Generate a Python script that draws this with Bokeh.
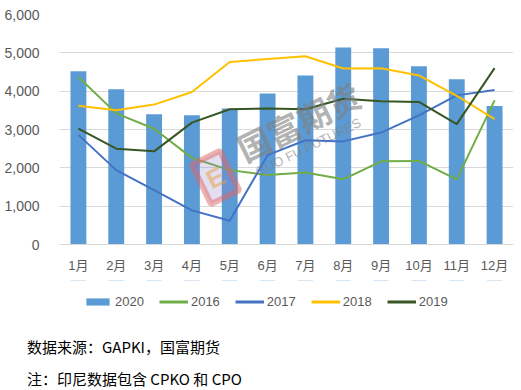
import math
from bokeh.plotting import figure
from bokeh.layouts import column
from bokeh.models import (FactorRange, Range1d, SingleIntervalTicker, NumeralTickFormatter,
                          ColumnDataSource, Legend, LegendItem, Label, Div)
from bokeh.embed import file_html
from bokeh.resources import INLINE

months = ["1月", "2月", "3月", "4月", "5月", "6月", "7月", "8月", "9月", "10月", "11月", "12月"]
y2020 = [4520, 4050, 3400, 3370, 3550, 3940, 4410, 5140, 5120, 4650, 4310, 3610]
y2016 = [4370, 3420, 3020, 2260, 1940, 1810, 1880, 1700, 2170, 2180, 1700, 3760]
y2017 = [2860, 1940, 1420, 890, 620, 2330, 2720, 2690, 2920, 3370, 3890, 4030]
y2018 = [3620, 3500, 3650, 3980, 4760, 4840, 4910, 4590, 4600, 4410, 3880, 3270]
y2019 = [3020, 2500, 2430, 3180, 3530, 3550, 3530, 3800, 3740, 3720, 3140, 4600]
series_names = ["2020", "2016", "2017", "2018", "2019"]
colors = ["#5B9BD5", "#70AD47", "#4472C4", "#FFC000", "#375623"]
note1 = "数据来源：GAPKI，国富期货"
note2 = "注：印尼数据包含 CPKO 和 CPO"

data = dict(m=months, y2020=y2020, y2016=y2016, y2017=y2017, y2018=y2018, y2019=y2019)
src = ColumnDataSource(data)

FONT = "Liberation Sans, Noto Sans CJK SC"
CJK = "Noto Sans CJK SC"
GRAY = "#595959"

p = figure(width=521, height=280, x_range=FactorRange(factors=months, range_padding=0),
           y_range=Range1d(0, 6000), output_backend="svg", toolbar_location=None,
           min_border_left=59, min_border_right=8, min_border_top=14, min_border_bottom=36)
p.outline_line_color = None
p.background_fill_color = "white"
p.border_fill_color = "white"

p.vbar(x="m", top="y2020", width=0.42, source=src, fill_color=colors[0], line_color=None)
for col, c in zip(["y2016", "y2017", "y2018", "y2019"], colors[1:]):
    p.line(x="m", y=col, source=src, line_color=c, line_width=2, line_join="round")

# axes
p.yaxis.ticker = SingleIntervalTicker(interval=1000)
p.yaxis.formatter = NumeralTickFormatter(format="0,0")
p.yaxis.axis_line_color = None
p.yaxis.major_tick_line_color = None
p.yaxis.minor_tick_line_color = None
p.yaxis.major_tick_out = 0
p.yaxis.major_label_standoff = 16
p.yaxis.major_label_text_font = FONT
p.yaxis.major_label_text_font_size = "14px"
p.yaxis.major_label_text_color = GRAY

p.xaxis.axis_line_color = "#D9D9D9"
p.xaxis.major_tick_line_color = None
p.xaxis.minor_tick_line_color = None
p.xaxis.major_tick_out = 0
p.xaxis.major_label_standoff = 13
p.xaxis.major_label_text_font = FONT
p.xaxis.major_label_text_font_size = "13px"
p.xaxis.major_label_text_color = GRAY

p.xgrid.grid_line_color = None
p.ygrid.grid_line_color = "#D9D9D9"
p.ygrid.grid_line_width = 1

# watermark
ang = math.radians(26)
p.add_layout(Label(x=156, y=67, x_units="screen", y_units="screen", text="E",
                   text_align="center", text_baseline="middle", angle=ang,
                   text_font=FONT, text_font_size="26px", text_font_style="bold",
                   text_color="#E8A040", text_alpha=0.5, padding=7,
                   background_fill_color="#8E7CC3", background_fill_alpha=0.25,
                   border_line_color="#E06666", border_line_width=6, border_line_alpha=0.5))
p.add_layout(Label(x=239, y=123, x_units="screen", y_units="screen", text="国富期货",
                   text_align="center", text_baseline="middle", angle=ang,
                   text_font=CJK, text_font_size="33px", text_font_style="bold",
                   text_color="#7F7F7F", text_alpha=0.6))
p.add_layout(Label(x=252, y=99, x_units="screen", y_units="screen", text="GUO  FU  FUTURES",
                   text_align="center", text_baseline="middle", angle=ang,
                   text_font=FONT, text_font_size="13px",
                   text_color="#7F7F7F", text_alpha=0.6))

# legend panel (proxy renderers kept outside the visible range)
q = figure(width=521, height=50, x_range=FactorRange(factors=months), y_range=Range1d(-2, -1),
           output_backend="svg", toolbar_location=None, x_axis_location=None,
           y_axis_location=None, min_border=0)
q.outline_line_color = None
q.xgrid.grid_line_color = None
q.ygrid.grid_line_color = None
qsrc = ColumnDataSource(data)
items = []
r = q.vbar(x="m", top="y2020", width=0.4, source=qsrc, fill_color=colors[0], line_color=None)
items.append(LegendItem(label=series_names[0], renderers=[r]))
for name, c in zip(series_names[1:], colors[1:]):
    r = q.line(x="m", y="y" + name, source=qsrc, line_color=c, line_width=3)
    items.append(LegendItem(label=name, renderers=[r]))

legend = Legend(items=items, location=(24, 21), orientation="horizontal")
legend.padding = 0
legend.margin = 0
legend.spacing = 15
legend.label_standoff = 3
legend.glyph_width = 29
legend.glyph_height = 9
legend.label_height = 15
legend.label_text_font = FONT
legend.label_text_font_size = "13px"
legend.label_text_color = GRAY
legend.border_line_color = None
legend.background_fill_alpha = 0
q.add_layout(legend, "center")

notes = Div(text=("<div style=\"font-family:'Noto Sans CJK SC';font-size:15px;color:#000;"
                  "line-height:32px;padding-left:27px;padding-top:1px;white-space:nowrap\">"
                  f"{note1}<br>{note2}</div>"),
            width=521, height=60, margin=0)

layout = column(p, q, notes, spacing=0)
open("out.html", "w").write(file_html(layout, INLINE))
